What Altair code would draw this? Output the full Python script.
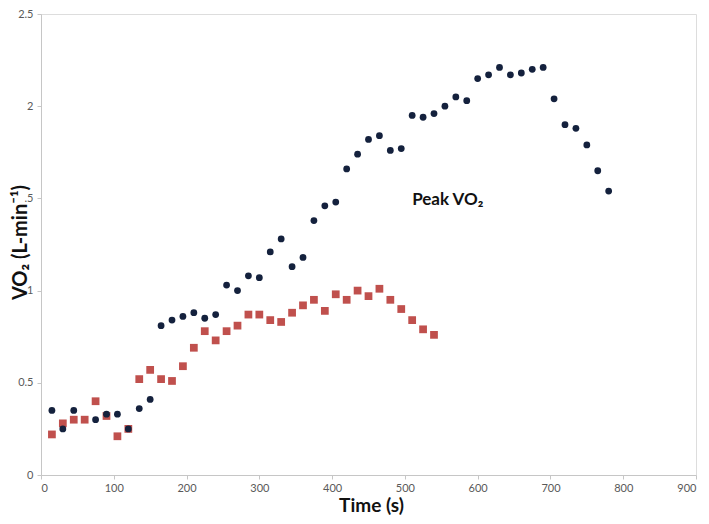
import altair as alt
import pandas as pd

# Series 1 (dark circles)
t_circ = [15, 30, 45, 75, 90, 105, 120, 135, 150, 165, 180, 195, 210, 225, 240,
          255, 270, 285, 300, 315, 330, 345, 360, 375, 390, 405, 420, 435, 450,
          465, 480, 495, 510, 525, 540, 555, 570, 585, 600, 615, 630, 645, 660,
          675, 690, 705, 720, 735, 750, 765, 780]
vo2_circ = [0.35, 0.25, 0.35, 0.30, 0.33, 0.33, 0.25, 0.36, 0.41, 0.81, 0.84,
            0.86, 0.88, 0.85, 0.87, 1.03, 1.00, 1.08, 1.07, 1.21, 1.28, 1.13,
            1.18, 1.38, 1.46, 1.48, 1.66, 1.74, 1.82, 1.84, 1.76, 1.77, 1.95,
            1.94, 1.96, 2.00, 2.05, 2.03, 2.15, 2.17, 2.21, 2.17, 2.18, 2.20,
            2.21, 2.04, 1.90, 1.88, 1.79, 1.65, 1.54]

# Series 2 (red squares)
t_sq = [15, 30, 45, 60, 75, 90, 105, 120, 135, 150, 165, 180, 195, 210, 225,
        240, 255, 270, 285, 300, 315, 330, 345, 360, 375, 390, 405, 420, 435,
        450, 465, 480, 495, 510, 525, 540]
vo2_sq = [0.22, 0.28, 0.30, 0.30, 0.40, 0.32, 0.21, 0.25, 0.52, 0.57, 0.52,
          0.51, 0.59, 0.69, 0.78, 0.73, 0.78, 0.81, 0.87, 0.87, 0.84, 0.83,
          0.88, 0.92, 0.95, 0.89, 0.98, 0.95, 1.00, 0.97, 1.01, 0.95, 0.90,
          0.84, 0.79, 0.76]

x_ticks = [0, 100, 200, 300, 400, 500, 600, 700, 800, 900]
y_ticks = [0, 0.5, 1, 1.5, 2, 2.5]

annot_text = ["Peak VO\u2082"]
annot_x = [510]
annot_y = [1.465]

FONT = "Lato"

df_c = pd.DataFrame({"t": t_circ, "v": vo2_circ})
df_s = pd.DataFrame({"t": t_sq, "v": vo2_sq})
df_a = pd.DataFrame({"t": annot_x, "v": annot_y, "label": annot_text})

x_scale = alt.Scale(domain=[0, 900], nice=False, zero=False)
y_scale = alt.Scale(domain=[0, 2.5], nice=False)

x_axis = alt.Axis(values=x_ticks, grid=False, title="Time (s)",
                  domainColor="#c6c6c6", tickColor="#c6c6c6", tickSize=4,
                  labelColor="#595959", labelFontSize=11, labelFont=FONT,
                  labelPadding=3, titleFont=FONT, titleFontSize=19,
                  titleFontWeight="bold", titleColor="#111111",
                  titleBaseline="alphabetic", titleY=36, titleX=330)
y_axis = alt.Axis(values=y_ticks, grid=False, title="VO\u2082 (L-min\u207b\u00b9)",
                  format="~g",
                  labelExpr="datum.value == 1.5 ? '.5' : datum.label",
                  domainColor="#c6c6c6", tickColor="#c6c6c6", tickSize=4,
                  labelColor="#595959", labelFontSize=11, labelFont=FONT,
                  labelPadding=4, titleFont=FONT, titleFontSize=20,
                  titleFontWeight="bold", titleColor="#111111",
                  titleAngle=270, titleAlign="center", titleBaseline="middle",
                  titleX=-21, titleY=228)

circles = alt.Chart(df_c).mark_circle(size=46, color="#14213d", opacity=1).encode(
    x=alt.X("t:Q", scale=x_scale, axis=x_axis),
    y=alt.Y("v:Q", scale=y_scale, axis=y_axis),
)
squares = alt.Chart(df_s).mark_square(size=60, color="#c0504d", opacity=1).encode(
    x=alt.X("t:Q", scale=x_scale),
    y=alt.Y("v:Q", scale=y_scale),
)
annot = alt.Chart(df_a).mark_text(align="left", baseline="alphabetic",
                                  font=FONT, fontSize=17, fontWeight="bold",
                                  color="#111111").encode(
    x=alt.X("t:Q", scale=x_scale),
    y=alt.Y("v:Q", scale=y_scale),
    text="label:N",
)

chart = alt.layer(squares, circles, annot).properties(
    width=655, height=461,
    autosize=alt.AutoSizeParams(type="none"),
    padding={"left": 33, "top": 6, "right": 5, "bottom": 41},
).configure_view(stroke=None).configure(background="white")

chart.save("out.html", embed_options={"renderer": "svg", "actions": False})
